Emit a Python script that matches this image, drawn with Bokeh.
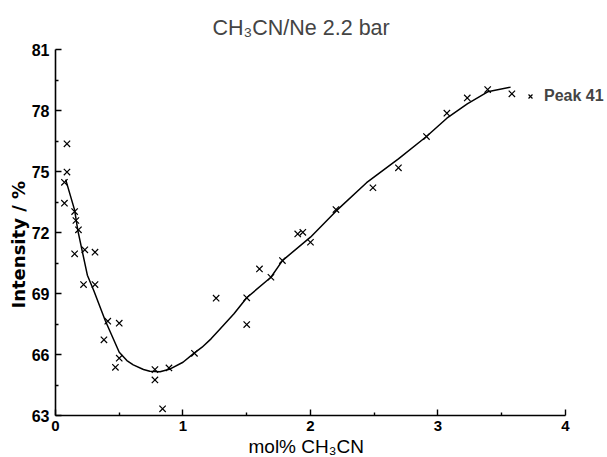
from bokeh.plotting import figure
from bokeh.models import Range1d, FixedTicker, Legend, LegendItem, Title
from bokeh.embed import file_html
from bokeh.resources import INLINE

# measured points (mol% CH3CN, intensity %)
x_pts = [0.09, 0.09, 0.07, 0.07, 0.15, 0.16, 0.18, 0.15, 0.23, 0.31, 0.22, 0.31,
         0.41, 0.50, 0.38, 0.50, 0.47, 0.78, 0.78, 0.89, 0.84, 1.09, 1.26, 1.50,
         1.50, 1.60, 1.69, 1.78, 1.90, 1.94, 2.00, 2.20, 2.49, 2.69, 2.91, 3.07,
         3.23, 3.39, 3.58]
y_pts = [76.36, 74.97, 74.47, 73.44, 73.03, 72.59, 72.13, 70.95, 71.15, 71.03, 69.44, 69.44,
         67.64, 67.54, 66.72, 65.82, 65.37, 65.26, 64.75, 65.34, 63.33, 66.06, 68.77, 68.79,
         67.47, 70.21, 69.80, 70.62, 71.93, 72.01, 71.52, 73.13, 74.20, 75.18, 76.72, 77.87,
         78.62, 79.03, 78.82]

# fitted curve
curve_x = [0.08, 0.15, 0.175, 0.25, 0.30, 0.39, 0.50, 0.56, 0.61, 0.69, 0.74, 0.82, 0.90,
           1.00, 1.08, 1.15, 1.22, 1.28, 1.40, 1.50, 1.69, 1.78, 2.00, 2.20, 2.44, 2.69,
           2.91, 3.07, 3.23, 3.39, 3.57]
curve_y = [74.6, 73.1, 72.1, 69.9, 69.15, 67.67, 66.11, 65.7, 65.49, 65.26, 65.18, 65.15, 65.29,
           65.62, 66.03, 66.36, 66.77, 67.18, 68.0, 68.79, 69.80, 70.62, 71.77, 73.05, 74.45, 75.62,
           76.72, 77.62, 78.33, 78.92, 79.15]

x_ticks = [0, 1, 2, 3, 4]
x_minor = [0.5, 1.5, 2.5, 3.5]
y_ticks = [63, 66, 69, 72, 75, 78, 81]
y_minor = [64.5, 67.5, 70.5, 73.5, 76.5, 79.5]

p = figure(width=607, height=457, output_backend="svg", toolbar_location=None,
           x_range=Range1d(0, 4.33), y_range=Range1d(63, 81),
           min_border_left=55, min_border_top=49, min_border_bottom=42, min_border_right=0)
p.outline_line_color = None
p.xgrid.visible = False
p.ygrid.visible = False
p.background_fill_color = "white"
p.border_fill_color = "white"

p.title.text = "CH\u2083CN/Ne 2.2 bar"
p.title.align = "left"
p.title.vertical_align = "top"
p.title.offset = 157
p.title.text_font = "Liberation Sans"
p.title.text_font_size = "21.5px"
p.title.text_font_style = "normal"
p.title.standoff = 16

line_r = p.line(curve_x, curve_y, line_color="black", line_width=1.5)
pts = p.scatter(x_pts, y_pts, marker="x", size=9, line_color="black", line_width=1.2)

# axes
xa = p.xaxis[0]
xa.ticker = FixedTicker(ticks=x_ticks, minor_ticks=x_minor)
xa.bounds = (0, 4)
xa.major_label_standoff = 5
xa.major_label_text_font = "Liberation Sans"
xa.major_label_text_font_size = "15px"
xa.major_label_text_font_style = "bold"

xlabel = Title(text="mol% CH\u2083CN", align="left", offset=193,
               text_font="Liberation Sans", text_font_size="19px",
               text_font_style="normal", text_color="black", standoff=0)
p.add_layout(xlabel, "below")

ya = p.yaxis[0]
ya.ticker = FixedTicker(ticks=y_ticks, minor_ticks=y_minor)
ya.bounds = (63, 81)
ya.major_label_standoff = 6
ya.major_label_text_font = "Liberation Sans"
ya.major_label_text_font_size = "16px"
ya.major_label_text_font_style = "bold"

ylabel = Title(text="Intensity / %", align="left", offset=107,
               text_font="DejaVu Sans", text_font_size="18px",
               text_font_style="bold", text_color="black", standoff=0)
p.add_layout(ylabel, "left")

for ax in (xa, ya):
    ax.axis_line_color = "black"
    ax.axis_line_width = 1.6
    ax.major_tick_in = 6
    ax.major_tick_out = 0
    ax.minor_tick_in = 3
    ax.minor_tick_out = 0
    ax.major_tick_line_color = "black"
    ax.minor_tick_line_color = "black"
    ax.major_tick_line_width = 1.4
    ax.minor_tick_line_width = 1.4
    ax.major_label_text_color = "black"

legend = Legend(items=[LegendItem(label="Peak 41", renderers=[pts])],
                location=(468, 310), padding=0, margin=0, glyph_width=14, glyph_height=14,
                label_standoff=7, border_line_alpha=0, background_fill_alpha=0,
                label_text_font="Liberation Sans", label_text_font_size="16px",
                label_text_font_style="bold")
p.add_layout(legend, "center")

open("out.html", "w").write(file_html(p, INLINE))
